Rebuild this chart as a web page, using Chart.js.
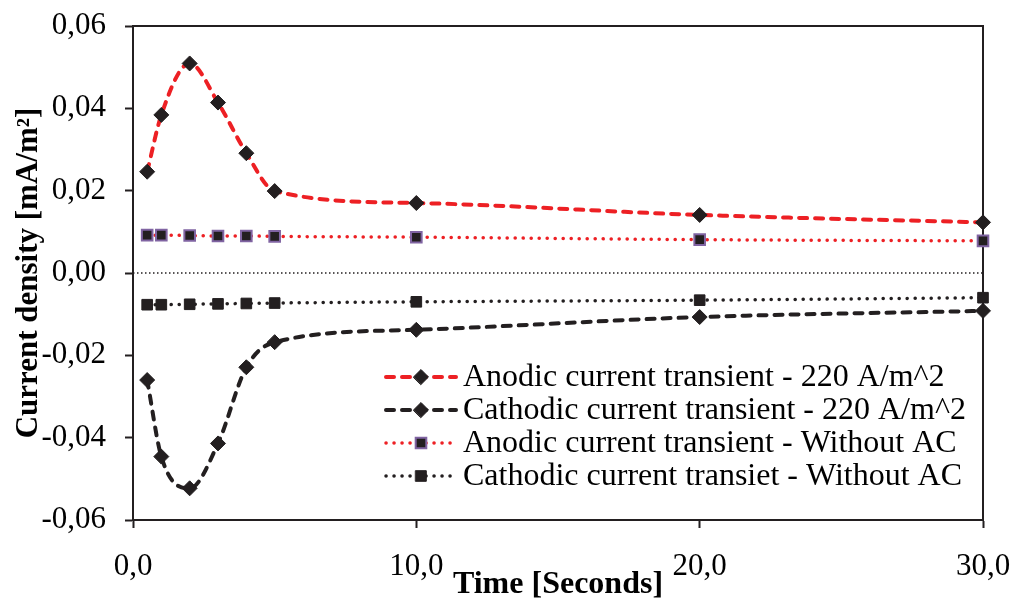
<!DOCTYPE html>
<html>
<head>
<meta charset="utf-8">
<script src="https://cdn.jsdelivr.net/npm/chart.js@4.4.1/dist/chart.umd.min.js"></script>
<style>
  body { margin: 0; background: #fff; }
  canvas { display: block; }
</style>
</head>
<body>
<canvas id="chart" width="1011" height="600"></canvas>
<script>
// time in seconds
var times = [0.5, 1, 2, 3, 4, 5, 10, 20, 30];
var anodic220 = [0.0246, 0.0384, 0.0509, 0.0414, 0.0291, 0.0199, 0.0170, 0.0141, 0.0123];
var cathodic220 = [-0.0260, -0.0446, -0.0523, -0.0414, -0.0229, -0.0168, -0.0138, -0.0107, -0.0092];
var anodicNoAC = [0.0092, 0.0092, 0.0091, 0.0090, 0.0090, 0.0089, 0.0087, 0.0081, 0.0078];
var cathodicNoAC = [-0.0077, -0.0077, -0.0076, -0.0075, -0.0074, -0.0073, -0.0070, -0.0066, -0.0060];
var zeroLine = [[0, 0], [30, 0]];
var seriesLabels = [
  'Anodic current transient - 220 A/m^2',
  'Cathodic current transient - 220 A/m^2',
  'Anodic current transient - Without AC',
  'Cathodic current transiet - Without AC'
];
var xTicks = [0, 10, 20, 30];
var yTicks = [-0.06, -0.04, -0.02, 0, 0.02, 0.04, 0.06];

var RED = '#ed2024';
var DARK = '#231f20';
var PURPLE = '#8064a2';
var SERIF = '"Liberation Serif", "Times New Roman", serif';

function pts(ys) {
  return times.map(function(t, i) { return {x: t, y: ys[i]}; });
}

function fmt(v, d) {
  return v.toFixed(d).replace('.', ',');
}

var datasets = [
  {
    label: seriesLabels[0], data: pts(anodic220),
    borderColor: RED, borderWidth: 4, borderDash: [8, 8], borderCapStyle: 'round',
    pointStyle: 'rectRot', pointRadius: 7.5, pointBackgroundColor: DARK, pointBorderColor: DARK, pointBorderWidth: 1
  },
  {
    label: seriesLabels[1], data: pts(cathodic220),
    borderColor: DARK, borderWidth: 4, borderDash: [8, 8], borderCapStyle: 'round',
    pointStyle: 'rectRot', pointRadius: 7.5, pointBackgroundColor: DARK, pointBorderColor: DARK, pointBorderWidth: 1
  },
  {
    label: seriesLabels[2], data: pts(anodicNoAC),
    borderColor: RED, borderWidth: 3.5, borderDash: [0.1, 7.9], borderCapStyle: 'round',
    pointStyle: 'rect', pointRadius: 7.5, pointBackgroundColor: DARK, pointBorderColor: PURPLE, pointBorderWidth: 2
  },
  {
    label: seriesLabels[3], data: pts(cathodicNoAC),
    borderColor: DARK, borderWidth: 3.5, borderDash: [0.1, 7.9], borderCapStyle: 'round',
    pointStyle: 'rect', pointRadius: 7.5, pointBackgroundColor: DARK, pointBorderColor: DARK, pointBorderWidth: 1
  },
  {
    label: '', data: zeroLine.map(function(p) { return {x: p[0], y: p[1]}; }),
    borderColor: DARK, borderWidth: 1.5, borderDash: [1.5, 2.5], pointRadius: 0, tension: 0
  }
];

// top and right edges of the plot box
var boxPlugin = {
  id: 'box',
  beforeDatasetsDraw: function(chart) {
    var a = chart.chartArea, ctx = chart.ctx;
    ctx.save();
    ctx.strokeStyle = DARK;
    ctx.lineWidth = 2;
    ctx.beginPath();
    ctx.moveTo(a.left, a.top);
    ctx.lineTo(a.right, a.top);
    ctx.lineTo(a.right, a.bottom);
    ctx.stroke();
    ctx.restore();
  }
};

// legend drawn inside the plot, lower right
var legendPlugin = {
  id: 'inLegend',
  afterDraw: function(chart) {
    var ctx = chart.ctx;
    var x0 = 386, x1 = 456, tx = 463, y0 = 377, dy = 33;
    ctx.save();
    chart.data.datasets.forEach(function(ds, i) {
      if (!ds.label) return;
      var y = y0 + i * dy;
      ctx.strokeStyle = ds.borderColor;
      ctx.lineWidth = ds.borderWidth;
      ctx.lineCap = ds.borderCapStyle || 'butt';
      ctx.setLineDash(ds.borderDash || []);
      ctx.beginPath();
      ctx.moveTo(x0, y);
      ctx.lineTo(x1, y);
      ctx.stroke();
      ctx.setLineDash([]);
      var mx = (x0 + x1) / 2, r = ds.pointRadius;
      ctx.fillStyle = ds.pointBackgroundColor;
      ctx.strokeStyle = ds.pointBorderColor;
      ctx.lineWidth = ds.pointBorderWidth;
      ctx.beginPath();
      if (ds.pointStyle === 'rectRot') {
        ctx.moveTo(mx - r, y); ctx.lineTo(mx, y - r); ctx.lineTo(mx + r, y); ctx.lineTo(mx, y + r);
        ctx.closePath();
      } else {
        var s = r * Math.SQRT1_2;
        ctx.rect(mx - s, y - s, 2 * s, 2 * s);
      }
      ctx.fill();
      ctx.stroke();
      ctx.fillStyle = '#000';
      ctx.font = '32px ' + SERIF;
      ctx.textBaseline = 'middle';
      ctx.textAlign = 'left';
      ctx.fillText(ds.label, tx, y + 1);
    });
    ctx.restore();
  }
};

new Chart(document.getElementById('chart'), {
  type: 'line',
  data: { datasets: datasets },
  plugins: [boxPlugin, legendPlugin],
  options: {
    responsive: false,
    animation: false,
    layout: { padding: { top: 26, right: 28, left: 0, bottom: 0 } },
    elements: { line: { tension: 0.4, cubicInterpolationMode: 'monotone', fill: false } },
    datasets: { line: { clip: false } },
    plugins: { legend: { display: false }, tooltip: { enabled: false } },
    scales: {
      x: {
        type: 'linear', min: 0, max: 30,
        afterBuildTicks: function(s) { s.ticks = xTicks.map(function(v) { return {value: v}; }); },
        afterFit: function(s) { s.height = 80; s.paddingLeft = 0; s.paddingRight = 0; },
        ticks: {
          color: '#000', padding: 20, maxRotation: 0,
          font: { family: SERIF, size: 31 },
          callback: function(v) { return fmt(v, 1); }
        },
        grid: { drawOnChartArea: false, drawTicks: true, tickLength: 8, tickColor: DARK, tickWidth: 2 },
        border: { display: true, color: DARK, width: 2 },
        title: {
          display: true, text: 'Time [Seconds]', color: '#000',
          font: { family: SERIF, size: 32, weight: 'bold', lineHeight: 1 },
          padding: { top: 0, bottom: -1 }
        }
      },
      y: {
        type: 'linear', min: -0.06, max: 0.06,
        afterBuildTicks: function(s) { s.ticks = yTicks.map(function(v) { return {value: v}; }); },
        afterFit: function(s) { s.width = 133; s.paddingTop = 0; s.paddingBottom = 0; },
        ticks: {
          color: '#000', padding: 19,
          font: { family: SERIF, size: 31 },
          callback: function(v) { return fmt(v, 2); }
        },
        grid: { drawOnChartArea: false, drawTicks: true, tickLength: 8, tickColor: DARK, tickWidth: 2 },
        border: { display: true, color: DARK, width: 2 },
        title: {
          display: true, text: 'Current density [mA/m²]', color: '#000',
          font: { family: SERIF, size: 31, weight: 'bold', lineHeight: 1 },
          padding: { top: 13, bottom: 0 }
        }
      }
    }
  }
});
</script>
</body>
</html>
